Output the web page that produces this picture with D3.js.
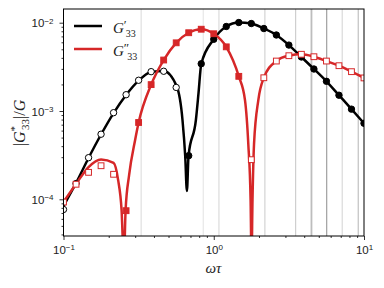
<!DOCTYPE html>
<html>
<head>
<meta charset="utf-8">
<script src="https://cdn.jsdelivr.net/npm/d3@7"></script>
<style>
  body { margin: 0; background: #fff; }
  svg { display: block; }
</style>
</head>
<body>
<svg id="chart" width="384" height="288"></svg>
<script>
// sampled frequencies (omega tau) for the markers
const omegaPts = [0.1, 0.1212, 0.1468, 0.1778, 0.2154, 0.2610, 0.3162, 0.3831, 0.4642, 0.5623,
  0.6813, 0.8254, 1.0, 1.2115, 1.4678, 1.7783, 2.1544, 2.6102, 3.1623, 3.8312,
  4.6416, 5.6234, 6.8129, 8.2540, 10]

// G'_33 markers (storage), filled = 1 / open = 0
const storPts = [7.67e-5, 1.51e-4, 2.96e-4, 5.46e-4, 9.57e-4, 1.53e-3, 2.23e-3, 2.79e-3, 2.82e-3, 1.85e-3,
  3.12e-4, 3.43e-3, 6.49e-3, 9.06e-3, 1.005e-2, 9.79e-3, 8.59e-3, 7.26e-3, 5.58e-3, 4.09e-3,
  2.99e-3, 2.17e-3, 1.51e-3, 1.05e-3, 7.26e-4]
const storFilled = [0,0,0,0,0,0,0,0,0,0, 1,1,1,1,1,1,1,1,1,1, 1,1,1,1,1]

// G''_33 markers (loss)
const lossPts = [9.31e-5, 1.48e-4, 2.02e-4, 2.40e-4, 1.92e-4, 7.43e-5, 7.41e-4, 1.99e-3, 3.78e-3, 5.92e-3,
  7.70e-3, 8.44e-3, 7.50e-3, 5.33e-3, 2.47e-3, 2.81e-4, 2.38e-3, 3.68e-3, 4.23e-3, 4.39e-3,
  4.12e-3, 3.68e-3, 3.26e-3, 2.79e-3, 2.37e-3]
const lossFilled = [0,0,0,0,0,1,1,1,1,1, 1,1,1,1,1,0,0,0,0,0, 0,0,0,0,0]

// model curves
const storCurveW = [0.1, 0.1212, 0.1468, 0.1778, 0.2154, 0.2610, 0.3162, 0.3831, 0.4642, 0.5683,
  0.6194, 0.6457, 0.6628, 0.6793, 0.7606, 0.792, 0.8254, 1.0, 1.2115, 1.4678, 1.7783,
  2.1544, 2.6102, 3.1623, 3.8312, 4.6416, 5.6234, 6.8129, 8.2540, 10]
const storCurveG = [8.39e-5, 1.53e-4, 2.94e-4, 5.42e-4, 9.48e-4, 1.52e-3, 2.21e-3, 2.77e-3, 2.84e-3, 1.88e-3,
  7.91e-4, 3.09e-4, 1.24e-4, 3.09e-4, 7.91e-4, 1.60e-3, 3.40e-3, 6.49e-3, 9.06e-3, 1.005e-2, 9.79e-3,
  8.59e-3, 7.26e-3, 5.58e-3, 4.09e-3, 2.99e-3, 2.17e-3, 1.51e-3, 1.05e-3, 7.26e-4]

const lossCurveW = [0.1, 0.1212, 0.1468, 0.1778, 0.2154, 0.2309, 0.2435, 0.2523, 0.2590, 0.2733,
  0.2997, 0.3162, 0.3831, 0.4642, 0.5623, 0.6813, 0.8254, 1.0, 1.2115, 1.4678,
  1.614, 1.698, 1.759, 1.784, 1.811, 1.854, 1.980, 2.1544, 2.6102, 3.1623,
  3.8312, 4.6416, 5.6234, 6.8129, 8.2540, 10]
const lossCurveG = [9.31e-5, 1.49e-4, 2.32e-4, 2.83e-4, 2.58e-4, 1.66e-4, 7.57e-5, 2.06e-5, 7.57e-5, 1.88e-4,
  4.70e-4, 7.41e-4, 1.99e-3, 3.78e-3, 5.92e-3, 7.70e-3, 8.44e-3, 7.50e-3, 5.33e-3, 2.47e-3,
  1.33e-3, 4.23e-4, 9.80e-5, 2.04e-5, 9.80e-5, 4.23e-4, 1.33e-3, 2.38e-3, 3.68e-3, 4.23e-3,
  4.39e-3, 4.12e-3, 3.68e-3, 3.26e-3, 2.79e-3, 2.37e-3]

// vertical reference lines
const gridOmega = [0.329, 0.851, 1.083, 2.19, 3.51, 4.47, 5.65, 7.16, 9.15]
const gridGray = ['#e6e6e6', '#e2e2e2', '#d4d4d4', '#cacaca', '#c6c6c6', '#bdbdbd', '#8c8c8c', '#d2d2d2', '#b4b4b4']
const gridWidth = [1.5, 1, 1, 1, 1, 1.8, 1, 1, 1]

const xMajor = [0.1, 1, 10]
const yMajor = [1e-4, 1e-3, 1e-2]

const black = '#000000',
    red = '#d62728'

let svg = d3.select('#chart'),
    plotLeft = 63.5, plotRight = 364, plotTop = 9, plotBottom = 236

let x = d3.scaleLog().domain([0.1, 10]).range([plotLeft, plotRight])
let y = d3.scaleLog().domain([3.84e-5, 1.43e-2]).range([plotBottom, plotTop])

svg.append('defs').append('clipPath').attr('id', 'plotclip')
    .append('rect')
    .attr('x', plotLeft).attr('y', plotTop)
    .attr('width', plotRight - plotLeft).attr('height', plotBottom - plotTop)

// minor tick values
function minors(lo, hi) {
    let out = []
    for (let e = lo; e <= hi; e++) {
        for (let m = 2; m <= 9; m++) out.push(m * Math.pow(10, e))
    }
    return out
}
let xMinor = minors(-1, 0).filter(function (v) { return v > 0.1 && v < 10 })
let yMinor = minors(-5, -2).filter(function (v) { return v > 3.84e-5 && v < 1.43e-2 })

let plot = svg.append('g').attr('clip-path', 'url(#plotclip)')

// Grid lines
plot.selectAll('.vline')
    .data(gridOmega)
    .enter().append('line')
    .attr('class', 'vline')
    .attr('x1', function (d) { return x(d) })
    .attr('x2', function (d) { return x(d) })
    .attr('y1', plotTop).attr('y2', plotBottom)
    .style('stroke', function (d, i) { return gridGray[i] })
    .attr('stroke-width', function (d, i) { return gridWidth[i] })

let line = d3.line()
    .x(function (d) { return x(d[0]) })
    .y(function (d) { return y(d[1]) })
    .curve(d3.curveMonotoneX)

// Curves
plot.append('path')
    .datum(d3.zip(storCurveW, storCurveG))
    .attr('d', line)
    .attr('fill', 'none')
    .attr('stroke', black)
    .attr('stroke-width', 2.5)

plot.append('path')
    .datum(d3.zip(lossCurveW, lossCurveG))
    .attr('d', line)
    .attr('fill', 'none')
    .attr('stroke', red)
    .attr('stroke-width', 2.5)

// Markers
plot.selectAll('.stor')
    .data(d3.zip(omegaPts, storPts, storFilled))
    .enter().append('circle')
    .attr('class', 'stor')
    .attr('cx', function (d) { return x(d[0]) })
    .attr('cy', function (d) { return y(d[1]) })
    .attr('r', 3.2)
    .attr('fill', function (d) { return d[2] ? black : '#fff' })
    .attr('stroke', black)
    .attr('stroke-width', 1)

plot.selectAll('.loss')
    .data(d3.zip(omegaPts, lossPts, lossFilled))
    .enter().append('rect')
    .attr('class', 'loss')
    .attr('x', function (d) { return x(d[0]) - 2.9 })
    .attr('y', function (d) { return y(d[1]) - 2.9 })
    .attr('width', 5.8).attr('height', 5.8)
    .attr('fill', function (d) { return d[2] ? red : '#fff' })
    .attr('stroke', red)
    .attr('stroke-width', 1)

// Axes
let xAxis = svg.append('g').attr('transform', 'translate(0,' + plotBottom + ')')
    .call(d3.axisBottom(x).tickValues(xMajor).tickSize(4).tickSizeOuter(0).tickFormat(''))
let xAxisMinor = svg.append('g').attr('transform', 'translate(0,' + plotBottom + ')')
    .call(d3.axisBottom(x).tickValues(xMinor).tickSize(2).tickSizeOuter(0).tickFormat(''))
let yAxis = svg.append('g').attr('transform', 'translate(' + plotLeft + ',0)')
    .call(d3.axisLeft(y).tickValues(yMajor).tickSize(4).tickSizeOuter(0).tickFormat(''))
let yAxisMinor = svg.append('g').attr('transform', 'translate(' + plotLeft + ',0)')
    .call(d3.axisLeft(y).tickValues(yMinor).tickSize(2).tickSizeOuter(0).tickFormat(''))

svg.selectAll('.domain').remove()
svg.selectAll('.tick line').attr('stroke', '#000').attr('stroke-width', 0.8)

function powLabel(sel, v) {
    let e = Math.round(Math.log10(v))
    sel.text(null)
    sel.append('tspan').text('10')
    sel.append('tspan').attr('dy', '-0.45em').attr('font-size', '8px')
        .text(e < 0 ? '\u2212' + (-e) : '' + e)
}

xAxis.selectAll('.tick text').each(function (d) {
    let t = d3.select(this)
        .attr('y', 18).attr('dy', 0)
        .attr('font-family', 'Liberation Sans, Arial, sans-serif')
        .attr('font-size', '11.5px').attr('fill', '#222')
        .attr('text-anchor', 'middle')
    powLabel(t, d)
})
yAxis.selectAll('.tick text').each(function (d) {
    let t = d3.select(this)
        .attr('x', -10).attr('dy', '0.36em')
        .attr('font-family', 'Liberation Sans, Arial, sans-serif')
        .attr('font-size', '11.5px').attr('fill', '#222')
        .attr('text-anchor', 'end')
    powLabel(t, d)
})

// Frame
svg.append('rect')
    .attr('x', plotLeft).attr('y', plotTop)
    .attr('width', plotRight - plotLeft).attr('height', plotBottom - plotTop)
    .attr('fill', 'none')
    .attr('stroke', '#000')
    .attr('stroke-width', 1)

// Axis labels
svg.append('text')
    .attr('x', 213.5).attr('y', 273)
    .attr('text-anchor', 'middle')
    .attr('font-family', 'Liberation Serif, serif')
    .attr('font-style', 'italic')
    .attr('font-size', '15px')
    .attr('fill', '#222')
    .text('\u03c9\u03c4')

let yl = svg.append('text')
    .attr('transform', 'translate(25,123) rotate(-90)')
    .attr('text-anchor', 'middle')
    .attr('font-family', 'Liberation Serif, serif')
    .attr('font-size', '16px')
    .attr('fill', '#222')
yl.append('tspan').text('|')
yl.append('tspan').attr('font-style', 'italic').text('G')
yl.append('tspan').attr('font-size', '11px').attr('dy', '-7').text('*')
yl.append('tspan').attr('font-size', '11px').attr('dy', '11').attr('dx', '-4').text('33')
yl.append('tspan').attr('dy', '-4').text('|/')
yl.append('tspan').attr('font-style', 'italic').text('G')

// Legend
let legend = svg.append('g')
let legendItems = [[black, '\u2032'], [red, '\u2033']]
legendItems.forEach(function (item, i) {
    let ly = 26 + i * 23
    legend.append('line')
        .attr('x1', 74).attr('x2', 102)
        .attr('y1', ly).attr('y2', ly)
        .attr('stroke', item[0]).attr('stroke-width', 2.5)
    let t = legend.append('text')
        .attr('x', 113).attr('y', ly + 7)
        .attr('font-family', 'Liberation Serif, serif')
        .attr('font-size', '15px')
        .attr('fill', '#222')
    t.append('tspan').attr('font-style', 'italic').text('G')
    t.append('tspan').attr('font-size', '13px').attr('dy', '-4').text(item[1])
    t.append('tspan').attr('font-size', '10px').attr('dy', '8').attr('dx', i ? '-2' : '-1').text('33')
})
</script>
</body>
</html>
